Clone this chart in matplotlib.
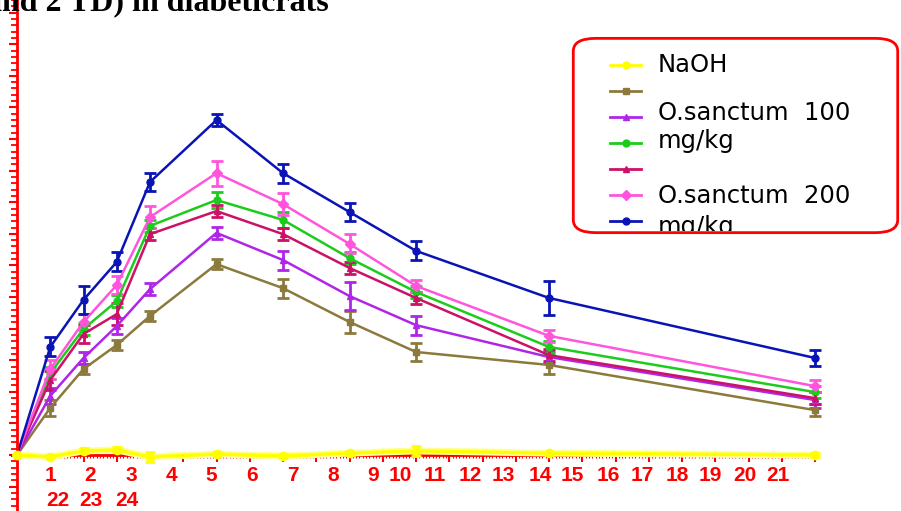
import matplotlib
matplotlib.use("Agg")
import numpy as np
import matplotlib.pyplot as plt
from matplotlib.lines import Line2D
from matplotlib.patches import FancyBboxPatch, Rectangle

# sampling times (h)
hours = [0, 1, 2, 3, 4, 6, 8, 10, 12, 16, 24]

# mean values per group (arbitrary y units)
naoh = [0, -0.6, 1.3, 1.6, -0.6, 0.3, -0.3, 0.6, 1.3, 0.6, 0]
grp_olive = [0, 14.9, 27.2, 34.8, 44.0, 60.4, 52.8, 42.1, 32.6, 28.5, 14.2]
grp_purple = [0, 18.7, 30.7, 40.8, 52.5, 70.3, 61.7, 50.3, 41.1, 31.0, 17.4]
grp_green = [0, 25.9, 39.9, 48.7, 72.5, 80.7, 74.4, 62.3, 51.6, 34.2, 19.9]
grp_crimson = [0, 23.7, 38.3, 44.6, 69.9, 77.2, 69.9, 59.2, 49.7, 31.6, 18.0]
grp_pink = [0, 27.2, 42.1, 53.8, 75.3, 89.2, 79.4, 66.8, 53.5, 37.7, 21.8]
grp_blue = [0, 34.2, 49.1, 61.1, 86.4, 106.0, 89.2, 76.9, 64.6, 49.7, 30.7]

# error bars
err_naoh = [0, 0.5, 0.8, 0.8, 1.5, 0.5, 0.5, 0.5, 1.5, 0.5, 0.5]
err_olive = [0, 2.5, 1.5, 1.5, 1.5, 1.5, 3, 3.5, 3, 3, 2]
err_purple = [0, 2.5, 2, 2.5, 2, 2, 3, 4.5, 3, 2, 2.5]
err_green = [0, 2, 2, 2, 2, 2.5, 2.5, 2, 2, 2, 2]
err_crimson = [0, 3, 3, 3.5, 2, 2, 2, 2, 2, 2, 2]
err_pink = [0, 3, 2.5, 3, 3.5, 4, 3.5, 3, 2, 2, 2]
err_blue = [0, 3, 4.5, 3, 3, 2, 3, 3, 3, 5.5, 2.5]

legend_labels = ["NaOH", "", "O.sanctum  100", "mg/kg", "", "O.sanctum  200", "mg/kg"]

# squashed tick labels (text, x position, row)
tick_text = [str(i) for i in range(1, 25)]
tick_pos = [1.02, 2.2, 3.43, 4.63, 5.83, 7.07, 8.3, 9.5, 10.7, 11.52, 12.57, 13.62,
            14.62, 15.73, 16.69, 17.77, 18.8, 19.85, 20.84, 21.89, 22.89,
            1.23, 2.23, 3.31]

series = [
    (grp_olive, err_olive, "#8c7a3c", "s"),
    (grp_purple, err_purple, "#b026e8", "^"),
    (grp_green, err_green, "#1ccc1c", "o"),
    (grp_crimson, err_crimson, "#cc1166", "^"),
    (grp_pink, err_pink, "#ff55dd", "D"),
    (grp_blue, err_blue, "#0a14b4", "o"),
    (naoh, err_naoh, "#ffff00", "o"),
]

W, H = 901, 511
fig = plt.figure(figsize=(W / 100, H / 100), dpi=100)
ax = fig.add_axes([17 / W, 0, 1 - 17 / W, 1])
ax.set_xlim(0, (W - 17) / 33.25)
ax.set_ylim((455 - H) / 3.16, 455 / 3.16)

for vals, errs, color, marker in series:
    if color == "#ffff00":
        # pale glow under the NaOH line
        ax.plot(hours, vals, color="#ffff99", lw=5, zorder=4, clip_on=False)
        ax.errorbar(hours, vals, yerr=errs, color=color, marker=marker, ms=6,
                    lw=2.5, elinewidth=2, capsize=3.5, capthick=2, clip_on=False, zorder=5)
    else:
        ax.errorbar(hours, vals, yerr=errs, color=color, marker=marker, ms=5,
                    lw=1.8, elinewidth=2, capsize=4, capthick=2, clip_on=False)

red = "#ff0000"
for s in ["top", "right"]:
    ax.spines[s].set_visible(False)
ax.spines["bottom"].set_position(("data", 0))
ax.spines["bottom"].set_bounds(0, 24)
ax.spines["bottom"].set_color(red)
ax.spines["bottom"].set_linewidth(2)
ax.spines["left"].set_color(red)
ax.spines["left"].set_linewidth(2)

ax.set_xticks(np.arange(0, 25, 1))
ax.set_xticks(np.arange(0, 24.01, 0.1), minor=True)
ax.set_yticks(np.arange(-10, 145, 10))
ax.set_yticks(np.arange(-16, 145, 2), minor=True)
ax.tick_params(axis="x", which="major", direction="out", length=5, width=1.5, color=red,
               labelbottom=False)
ax.tick_params(axis="x", which="minor", direction="out", length=2.5, width=0.8, color=red)
ax.tick_params(axis="y", which="major", direction="out", length=6, width=1.5, color=red,
               labelleft=False)
ax.tick_params(axis="y", which="minor", direction="out", length=4, width=1.3, color=red)

for i, (txt, xp) in enumerate(zip(tick_text, tick_pos)):
    yrow = -6.6 if i < 21 else -14.5
    ax.text(xp, yrow, txt, color=red, fontsize=15, fontweight="bold",
            family="Liberation Sans", ha="center", va="center")

# partly cut-off title at the top
fig.text(-14 / W, 1 - 10 / H, "and 2 TD) in diabeticrats", fontsize=23, fontweight="bold",
         family="Liberation Serif", ha="left", va="baseline")

# legend box with clipped contents
box = FancyBboxPatch((585 / W, 1 - 226 / H), 301 / W, 181 / H,
                     boxstyle="round,pad=0.013,rounding_size=0.025",
                     transform=fig.transFigure, facecolor="white", edgecolor=red, lw=2)
fig.add_artist(box)
clip = Rectangle((575 / W, 1 - 231 / H), 320 / W, 193 / H, transform=fig.transFigure,
                 visible=False)
fig.add_artist(clip)
order = [6, 0, 1, 2, 3, 4, 5]
text_rows = [65, 90, 113, 141, 168, 196, 227]
for row, (idx, lab) in enumerate(zip(order, legend_labels)):
    yc = 1 - (65 + row * 26) / H
    color, marker = series[idx][2], series[idx][3]
    ln = Line2D([610 / W, 641 / W], [yc, yc], transform=fig.transFigure, color=color, lw=2)
    fig.add_artist(ln)
    mk = Line2D([625.5 / W], [yc], transform=fig.transFigure, color=color,
                marker=marker, ms=5, lw=0)
    fig.add_artist(mk)
    t = fig.text(658 / W, 1 - text_rows[row] / H, lab, fontsize=17.5, family="DejaVu Sans",
                 va="center", ha="left", color="black")
    t.set_clip_path(clip)
    ln.set_clip_path(clip)
    mk.set_clip_path(clip)

fig.savefig("out.png", dpi=100)
